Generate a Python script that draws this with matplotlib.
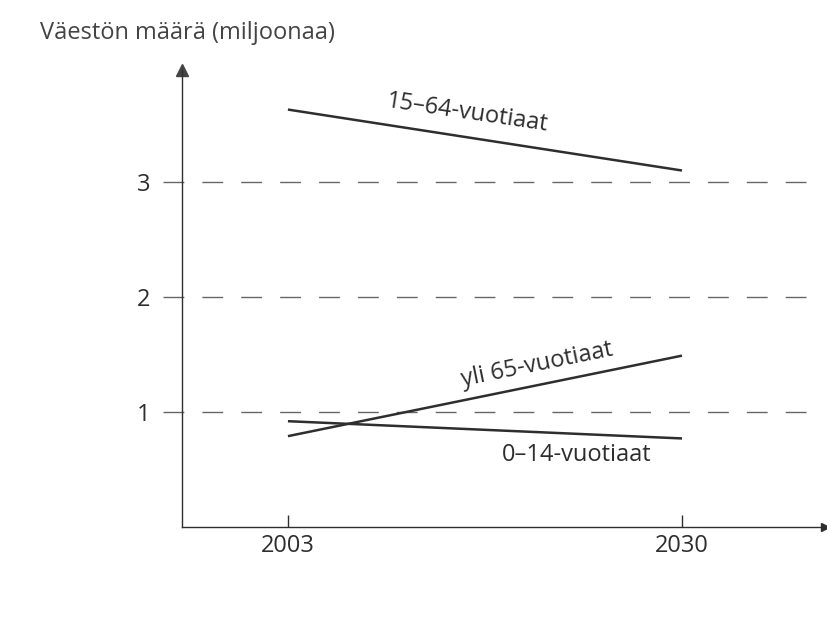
import matplotlib.pyplot as plt
import numpy as np

# population (millions), 2003 -> 2030
years = [2003, 2030]
age_15_64 = [3.63, 3.10]
age_65_plus = [0.79, 1.49]
age_0_14 = [0.92, 0.77]

y_ticks = [1, 2, 3]
x_ticks = [2003, 2030]

plt.rcParams['font.family'] = ['Open Sans', 'DejaVu Sans']
plt.rcParams['lines.scale_dashes'] = False
ink = '#2e2e2e'
grey = '#666666'

fig = plt.figure(figsize=(8.27, 6.18), dpi=100)
fig.patch.set_facecolor('white')
ax = fig.add_axes([182 / 827, 91 / 618, 643 / 827, 457 / 618])
ax.set_xlim(1995.74, 2039.8)
ax.set_ylim(0, 3.974)

# dashed reference lines, starting a bit left of the y axis
for v in y_ticks:
    ax.axhline(v, xmin=-0.03, xmax=0.977, color=grey, lw=1.0,
               dashes=(15, 13), clip_on=False)

ax.plot(years, age_15_64, color=ink, lw=1.8, solid_capstyle='butt')
ax.plot(years, age_65_plus, color=ink, lw=1.8, solid_capstyle='butt')
ax.plot(years, age_0_14, color=ink, lw=1.8, solid_capstyle='butt')

ax.text(2015.3, 3.60, '15–64-vuotiaat', fontsize=17, color=ink,
        rotation=-8.5, ha='center', va='center', rotation_mode='anchor')
ax.text(2020.1, 1.41, 'yli 65-vuotiaat', fontsize=17, color=ink,
        rotation=11.5, ha='center', va='center', rotation_mode='anchor')
ax.text(2022.8, 0.63, '0–14-vuotiaat', fontsize=17, color=ink,
        ha='center', va='center')

# axes with arrow heads
for s in ['top', 'right']:
    ax.spines[s].set_visible(False)
for s in ['left', 'bottom']:
    ax.spines[s].set_color(ink)
    ax.spines[s].set_linewidth(1.0)
ax.plot([0], [1.0], marker='^', ms=9, color='#444444', transform=ax.transAxes,
        clip_on=False)
ax.plot([1.0], [0], marker='>', ms=6, color=ink, transform=ax.transAxes,
        clip_on=False)

ax.set_yticks(y_ticks)
ax.set_yticklabels([str(v) for v in y_ticks], fontsize=17, color=ink)
ax.tick_params(axis='y', length=0, pad=23)
ax.set_xticks(x_ticks)
ax.set_xticklabels([str(v) for v in x_ticks], fontsize=17, color=ink)
ax.tick_params(axis='x', direction='in', length=9, width=1.0, color=ink, pad=5)

fig.text(40 / 827, 1 - 33 / 618, 'Väestön määrä (miljoonaa)', fontsize=17,
         color='#444444', va='center', ha='left')

plt.savefig('out.png', dpi=100)
